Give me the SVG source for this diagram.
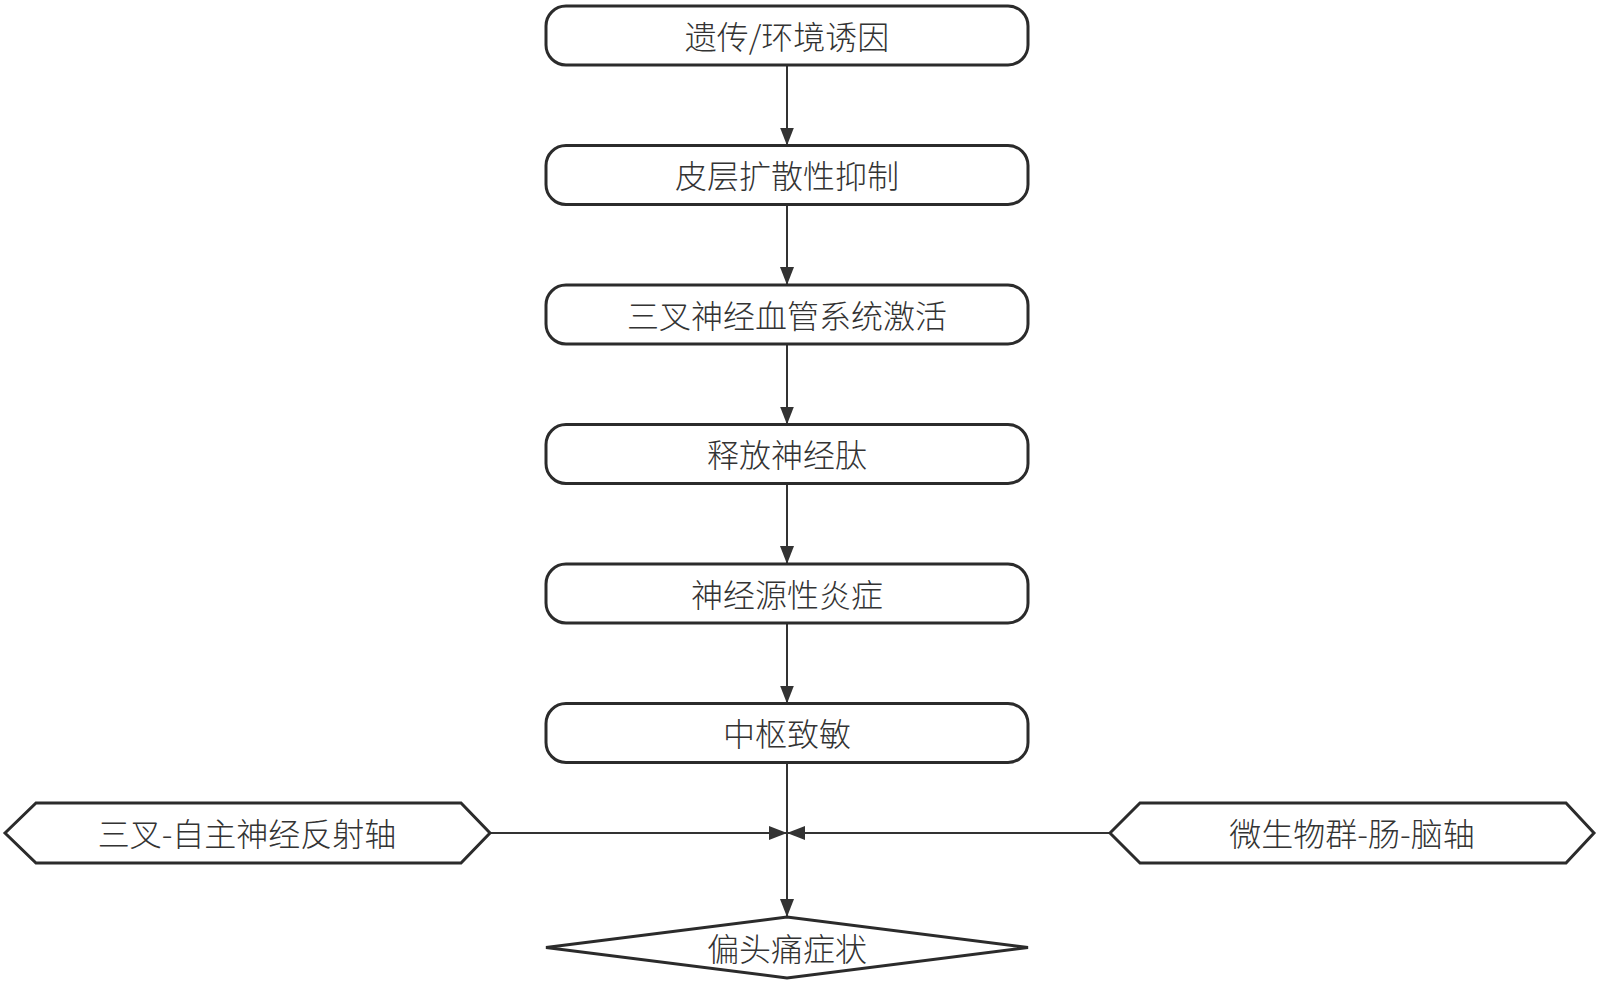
<svg xmlns="http://www.w3.org/2000/svg" width="1600" height="986" viewBox="0 0 1600 986">
<style>
.box{fill:#fff;stroke:#2b2b2b;stroke-width:3}
.lbl{font-family:"Noto Sans CJK SC","Noto Sans",sans-serif;font-size:32px;font-weight:300;fill:#333;text-anchor:middle;dominant-baseline:central}
.edge{fill:none;stroke:#333;stroke-width:2}
</style>
<defs>
<marker id="arr" viewBox="0 0 18 14" refX="18" refY="7" markerWidth="18" markerHeight="14" markerUnits="userSpaceOnUse" orient="auto">
<path d="M0,0 L18,7 L0,14 z" fill="#333"/>
</marker>
</defs>
<rect width="1600" height="986" fill="#fff"/>
<g id="connectors">
<line class="edge" x1="787" y1="65" x2="787" y2="145.5" marker-end="url(#arr)"/>
<line class="edge" x1="787" y1="204.5" x2="787" y2="285" marker-end="url(#arr)"/>
<line class="edge" x1="787" y1="344" x2="787" y2="424.5" marker-end="url(#arr)"/>
<line class="edge" x1="787" y1="483.5" x2="787" y2="564" marker-end="url(#arr)"/>
<line class="edge" x1="787" y1="623" x2="787" y2="703.5" marker-end="url(#arr)"/>
<line class="edge" x1="787" y1="762.5" x2="787" y2="917" marker-end="url(#arr)"/>
<line class="edge" x1="490" y1="833" x2="787" y2="833" marker-end="url(#arr)"/>
<line class="edge" x1="1110" y1="833" x2="787" y2="833" marker-end="url(#arr)"/>
</g>
<g id="n1"><rect class="box" x="546" y="6" width="482" height="59" rx="20"/><text class="lbl" x="787" y="34.5">遗传/环境诱因</text></g>
<g id="n2"><rect class="box" x="546" y="145.5" width="482" height="59" rx="20"/><text class="lbl" x="787" y="174">皮层扩散性抑制</text></g>
<g id="n3"><rect class="box" x="546" y="285" width="482" height="59" rx="20"/><text class="lbl" x="787" y="313.5">三叉神经血管系统激活</text></g>
<g id="n4"><rect class="box" x="546" y="424.5" width="482" height="59" rx="20"/><text class="lbl" x="787" y="453">释放神经肽</text></g>
<g id="n5"><rect class="box" x="546" y="564" width="482" height="59" rx="20"/><text class="lbl" x="787" y="592.5">神经源性炎症</text></g>
<g id="n6"><rect class="box" x="546" y="703.5" width="482" height="59" rx="20"/><text class="lbl" x="787" y="732">中枢致敏</text></g>
<g id="n7"><polygon class="box" points="5,833 36,803 461,803 490,833 461,863 36,863"/><text class="lbl" x="247" y="832">三叉-自主神经反射轴</text></g>
<g id="n8"><polygon class="box" points="1110,833 1140,803 1566,803 1594,833 1566,863 1140,863"/><text class="lbl" x="1352" y="832">微生物群-肠-脑轴</text></g>
<g id="n9"><polygon class="box" points="546,947.5 787,917 1028,947.5 787,978"/><text class="lbl" x="787" y="946.5">偏头痛症状</text></g>
</svg>
